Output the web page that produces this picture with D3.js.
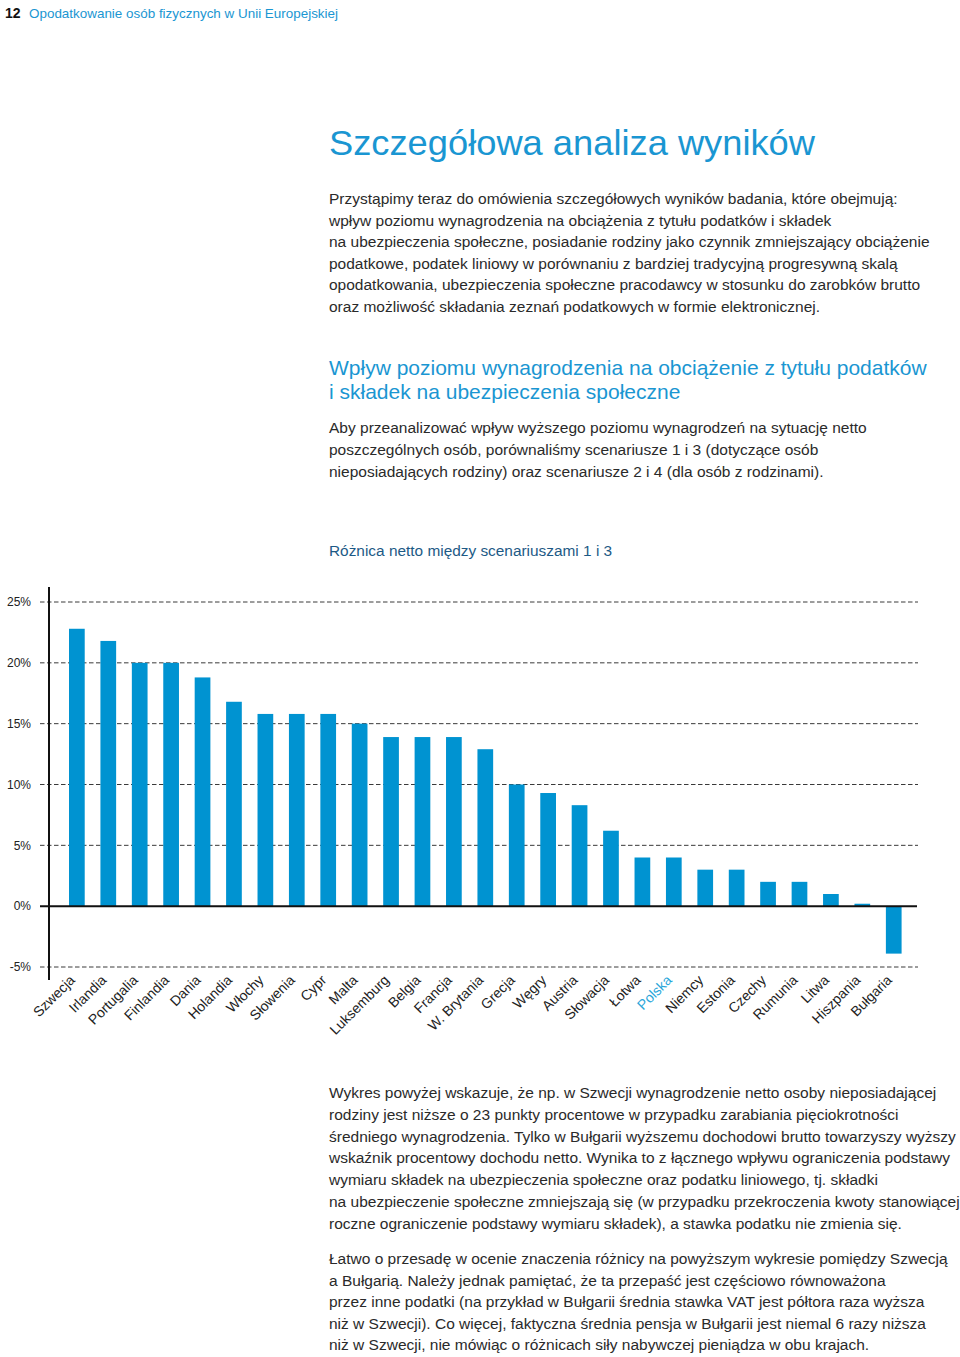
<!DOCTYPE html>
<html lang="pl">
<head>
<meta charset="utf-8">
<script src="https://cdn.jsdelivr.net/npm/d3@7"></script>
<style>
  html, body { margin: 0; padding: 0; background: #fff; }
  svg { display: block; font-family: "Liberation Sans", Arial, Helvetica, sans-serif; }
</style>
</head>
<body>
<svg id="page" width="960" height="1357"></svg>
<script>
// ---- data ----
const countries = ["Szwecja","Irlandia","Portugalia","Finlandia","Dania","Holandia","Włochy","Słowenia","Cypr","Malta","Luksemburg","Belgia","Francja","W. Brytania","Grecja","Węgry","Austria","Słowacja","Łotwa","Polska","Niemcy","Estonia","Czechy","Rumunia","Litwa","Hiszpania","Bułgaria"];
const netDiff = [22.8,21.8,20.0,20.0,18.8,16.8,15.8,15.8,15.8,15.0,13.9,13.9,13.9,12.9,10.0,9.3,8.3,6.2,4.0,4.0,3.0,3.0,2.0,2.0,1.0,0.2,-3.9];
const yTicks = [25,20,15,10,5,0,-5];
const highlighted = ["Polska"];

const headerNumber = "12";
const headerText = "Opodatkowanie osób fizycznych w Unii Europejskiej";
const pageTitle = "Szczegółowa analiza wyników";
const para1 = [
  "Przystąpimy teraz do omówienia szczegółowych wyników badania, które obejmują:",
  "wpływ poziomu wynagrodzenia na obciążenia z tytułu podatków i składek",
  "na ubezpieczenia społeczne, posiadanie rodziny jako czynnik zmniejszający obciążenie",
  "podatkowe, podatek liniowy w porównaniu z bardziej tradycyjną progresywną skalą",
  "opodatkowania, ubezpieczenia społeczne pracodawcy w stosunku do zarobków brutto",
  "oraz możliwość składania zeznań podatkowych w formie elektronicznej."
];
const subheading = [
  "Wpływ poziomu wynagrodzenia na obciążenie z tytułu podatków",
  "i składek na ubezpieczenia społeczne"
];
const para2 = [
  "Aby przeanalizować wpływ wyższego poziomu wynagrodzeń na sytuację netto",
  "poszczególnych osób, porównaliśmy scenariusze 1 i 3 (dotyczące osób",
  "nieposiadających rodziny) oraz scenariusze 2 i 4 (dla osób z rodzinami)."
];
const chartTitle = "Różnica netto między scenariuszami 1 i 3";
const para3 = [
  "Wykres powyżej wskazuje, że np. w Szwecji wynagrodzenie netto osoby nieposiadającej",
  "rodziny jest niższe o 23 punkty procentowe w przypadku zarabiania pięciokrotności",
  "średniego wynagrodzenia. Tylko w Bułgarii wyższemu dochodowi brutto towarzyszy wyższy",
  "wskaźnik procentowy dochodu netto. Wynika to z łącznego wpływu ograniczenia podstawy",
  "wymiaru składek na ubezpieczenia społeczne oraz podatku liniowego, tj. składki",
  "na ubezpieczenie społeczne zmniejszają się (w przypadku przekroczenia kwoty stanowiącej",
  "roczne ograniczenie podstawy wymiaru składek), a stawka podatku nie zmienia się."
];
const para4 = [
  "Łatwo o przesadę w ocenie znaczenia różnicy na powyższym wykresie pomiędzy Szwecją",
  "a Bułgarią. Należy jednak pamiętać, że ta przepaść jest częściowo równoważona",
  "przez inne podatki (na przykład w Bułgarii średnia stawka VAT jest półtora raza wyższa",
  "niż w Szwecji). Co więcej, faktyczna średnia pensja w Bułgarii jest niemal 6 razy niższa",
  "niż w Szwecji, nie mówiąc o różnicach siły nabywczej pieniądza w obu krajach."
];

// ---- styles ----
const BLUE = "#1a96d2";
const BAR = "#0093d1";
const TEXT = "#2a2a2a";
const BODY = 15.5;

const svg = d3.select("#page");

// header
svg.append("text").attr("x", 5).attr("y", 18).attr("font-size", 14)
  .attr("font-weight", "bold").attr("fill", "#111").text(headerNumber);
svg.append("text").attr("x", 29).attr("y", 18).attr("font-size", 13.5).attr("fill", BLUE)
  .attr("textLength", 309).attr("lengthAdjust", "spacingAndGlyphs").text(headerText);

// title
svg.append("text").attr("x", 329).attr("y", 155).attr("font-size", 35).attr("fill", BLUE)
  .attr("textLength", 486).attr("lengthAdjust", "spacingAndGlyphs").text(pageTitle);

function block(lines, x, y0, lh, size, color) {
  svg.append("g").selectAll("text").data(lines).join("text")
    .attr("x", x).attr("y", (d, i) => y0 + i * lh)
    .attr("font-size", size).attr("fill", color).text(d => d);
}
block(para1, 329, 204, 21.6, BODY, TEXT);
block(subheading, 329, 375, 24, 21, BLUE);
block(para2, 329, 433, 22, BODY, TEXT);
svg.append("text").attr("x", 329).attr("y", 556).attr("font-size", 15.4).attr("fill", "#1d5a86").text(chartTitle);
block(para3, 329, 1098, 21.8, BODY, TEXT);
block(para4, 329, 1264, 21.6, BODY, TEXT);

// ---- chart ----
const axisX = 49, gridX0 = 40, gridX1 = 918;
const y = d3.scaleLinear().domain([-5, 25]).range([967, 602]);
const x = d3.scaleBand().domain(countries).range([53.3, 917.3]).paddingInner(0.5).paddingOuter(0.5);

const chart = svg.append("g");

// gridlines
chart.append("g").selectAll("line").data(yTicks.filter(t => t !== 0)).join("line")
  .attr("x1", gridX0).attr("x2", gridX1)
  .attr("y1", d => y(d)).attr("y2", d => y(d))
  .attr("stroke", "#3a3a3a").attr("stroke-width", 1).attr("stroke-dasharray", "4.5,2.5");

// y tick labels
chart.append("g").selectAll("text").data(yTicks).join("text")
  .attr("x", 31).attr("y", d => y(d)).attr("dy", "0.35em")
  .attr("text-anchor", "end").attr("font-size", 12).attr("fill", "#222")
  .text(d => d + "%");

// bars
chart.append("g").selectAll("rect").data(countries).join("rect")
  .attr("x", d => x(d))
  .attr("width", x.bandwidth())
  .attr("y", (d, i) => y(Math.max(0, netDiff[i])))
  .attr("height", (d, i) => Math.abs(y(netDiff[i]) - y(0)))
  .attr("fill", BAR);

// zero line
chart.append("line").attr("x1", gridX0).attr("x2", gridX1 - 1)
  .attr("y1", y(0)).attr("y2", y(0)).attr("stroke", "#111").attr("stroke-width", 2);

// y axis line
chart.append("line").attr("x1", axisX).attr("x2", axisX)
  .attr("y1", 587).attr("y2", 980).attr("stroke", "#111").attr("stroke-width", 2);

// x labels
chart.append("g").selectAll("text").data(countries).join("text")
  .attr("transform", d => `translate(${x(d) + x.bandwidth() / 2 - 1},${981}) rotate(-45)`)
  .attr("text-anchor", "end").attr("font-size", 14)
  .attr("fill", d => highlighted.includes(d) ? "#2aa6da" : "#222")
  .text(d => d);
</script>
</body>
</html>
